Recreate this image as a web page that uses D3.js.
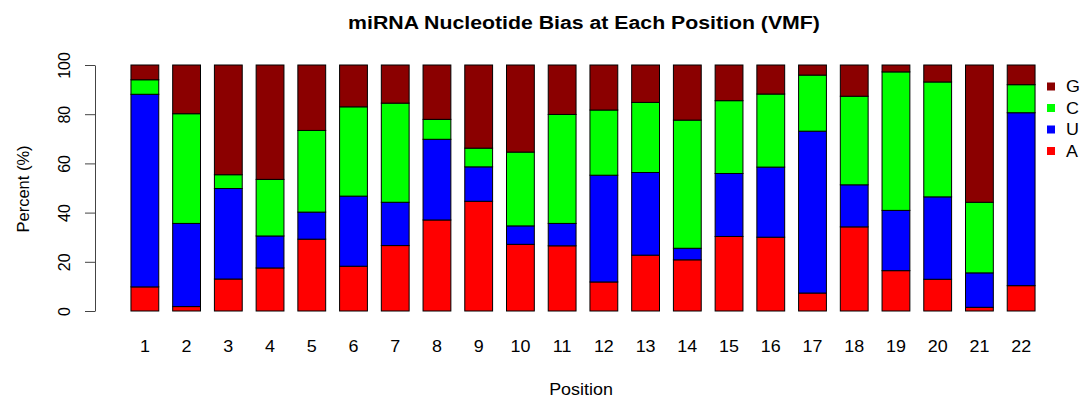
<!DOCTYPE html>
<html>
<head>
<meta charset="utf-8">
<script src="https://cdn.jsdelivr.net/npm/d3@7"></script>
<style>
  body { margin: 0; background: #fff; }
  svg text { font-family: "Liberation Sans", Arial, Helvetica, sans-serif; fill: #000; }
</style>
</head>
<body>
<div id="chart"></div>
<script>
// per-position nucleotide percentages
var positions = ["1","2","3","4","5","6","7","8","9","10","11","12","13","14","15","16","17","18","19","20","21","22"];
var pctA = [9.8, 1.8, 13.0, 17.5, 29.2, 18.2, 26.6, 37.0, 44.6, 27.1, 26.5, 11.8, 22.7, 20.8, 30.3, 30.0, 7.3, 34.2, 16.4, 12.9, 1.5, 10.3];
var pctU = [78.3, 33.8, 36.8, 13.0, 11.0, 28.5, 17.6, 32.8, 14.0, 7.5, 9.1, 43.4, 33.6, 4.7, 25.6, 28.5, 65.8, 17.1, 24.5, 33.5, 14.0, 70.3];
var pctC = [5.9, 44.6, 5.6, 23.0, 33.2, 36.3, 40.3, 8.1, 7.6, 30.0, 44.3, 26.5, 28.5, 52.1, 29.6, 29.7, 22.8, 36.0, 56.3, 46.7, 28.7, 11.4];
var pctG = [6.0, 19.8, 44.6, 46.5, 26.6, 17.0, 15.5, 22.1, 33.8, 35.4, 20.1, 18.3, 15.2, 22.4, 14.5, 11.8, 4.1, 12.7, 2.8, 6.9, 55.8, 8.0];
var nucleotides = ["A", "U", "C", "G"];
var nucColors = ["#ff0000", "#0000ff", "#00ff00", "#8b0000"];
var yTicks = [0, 20, 40, 60, 80, 100];

var W = 1085, H = 403;
var plot = {left: 95, top: 65, bottom: 311, x0: 124, x1: 1042};
var stretch = 1.12; // the original png looks a bit wider than tall

var rows = positions.map(function(p, i) {
  return {pos: p, A: pctA[i], U: pctU[i], C: pctC[i], G: pctG[i]};
});

var svg = d3.select("#chart").append("svg")
    .attr("width", W)
    .attr("height", H);

var x = d3.scaleBand()
    .domain(positions)
    .range([plot.x0, plot.x1])
    .paddingInner(1/3)
    .paddingOuter(1/6);

var y = d3.scaleLinear().domain([0, 100]).range([plot.bottom, plot.top]);

var color = d3.scaleOrdinal().domain(nucleotides).range(nucColors);

var series = d3.stack().keys(nucleotides)(rows);

function at(px, py) {
  return "translate(" + px + "," + py + ") scale(" + stretch + ",1)";
}

// stacked bars
svg.append("g").selectAll("g")
    .data(series)
  .enter().append("g")
    .attr("fill", function(d) { return color(d.key); })
  .selectAll("rect")
    .data(function(d) { return d; })
  .enter().append("rect")
    .attr("x", function(d) { return x(d.data.pos); })
    .attr("width", x.bandwidth())
    .attr("y", function(d) { return y(d[1]); })
    .attr("height", function(d) { return y(d[0]) - y(d[1]); })
    .attr("stroke", "#000")
    .attr("stroke-width", 1);

// y axis, R style: rotated labels
var yAxis = svg.append("g")
    .attr("transform", "translate(" + plot.left + ",0)")
    .call(d3.axisLeft(y).tickValues(yTicks).tickSize(10).tickPadding(14).tickSizeOuter(0));
yAxis.select(".domain").attr("stroke", "#444");
yAxis.selectAll(".tick line").attr("stroke", "#444");
yAxis.selectAll(".tick text")
    .attr("x", null).attr("dy", null)
    .attr("transform", "translate(-25,0) rotate(-90)")
    .attr("text-anchor", "middle")
    .style("font-size", "16px");

// x labels (no axis line)
svg.append("g").selectAll("text")
    .data(positions)
  .enter().append("text")
    .attr("transform", function(d) { return at(x(d) + x.bandwidth() / 2, 352); })
    .attr("text-anchor", "middle")
    .style("font-size", "16px")
    .text(function(d) { return d; });

svg.append("text")
    .attr("transform", at(584, 22))
    .attr("dy", "0.35em")
    .attr("text-anchor", "middle")
    .style("font-size", "19px")
    .style("font-weight", "bold")
    .text("miRNA Nucleotide Bias at Each Position (VMF)");

svg.append("text")
    .attr("transform", at(581, 395))
    .attr("text-anchor", "middle")
    .style("font-size", "16px")
    .text("Position");

svg.append("text")
    .attr("transform", "translate(29,189) rotate(-90)")
    .attr("text-anchor", "middle")
    .style("font-size", "16.5px")
    .text("Percent (%)");

// legend, G on top
var legend = svg.append("g").selectAll("g")
    .data(nucleotides.slice().reverse())
  .enter().append("g")
    .attr("transform", function(d, i) { return "translate(1047," + (86.5 + i * 21.5) + ")"; });
legend.append("rect")
    .attr("x", 0).attr("y", -4)
    .attr("width", 8).attr("height", 8)
    .attr("fill", function(d) { return color(d); });
legend.append("text")
    .attr("transform", at(19, 0))
    .attr("dy", "0.36em")
    .style("font-size", "16px")
    .text(function(d) { return d; });
</script>
</body>
</html>
